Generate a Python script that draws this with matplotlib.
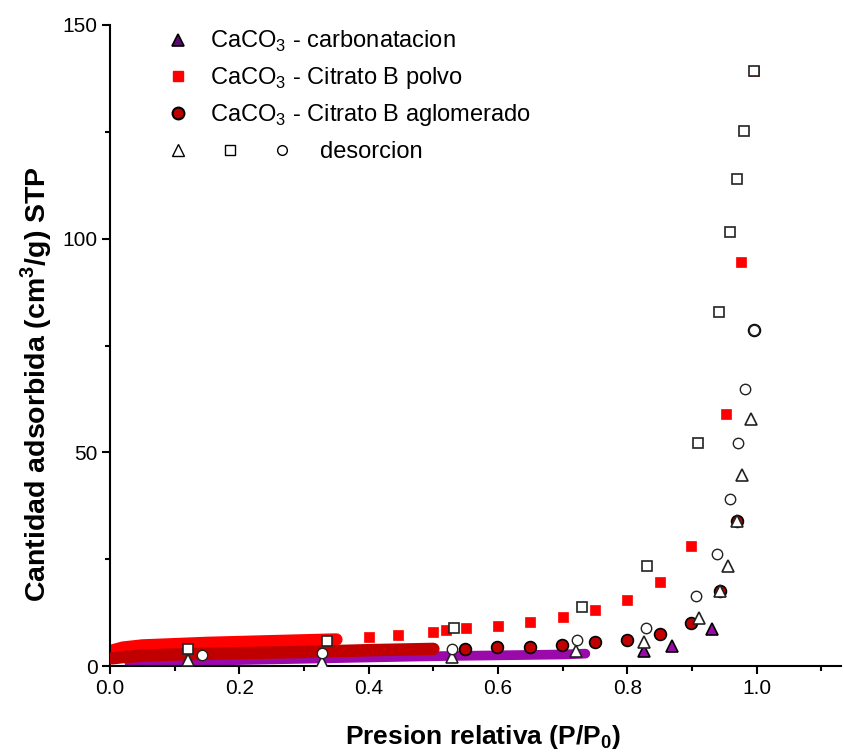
import matplotlib
matplotlib.use("Agg")
import matplotlib.pyplot as plt
from matplotlib.lines import Line2D
from matplotlib.legend_handler import HandlerTuple
from matplotlib.ticker import MultipleLocator

plt.rcParams["font.family"] = ["Liberation Sans", "DejaVu Sans"]
plt.rcParams["mathtext.fontset"] = "custom"
plt.rcParams["mathtext.rm"] = "Liberation Sans"
plt.rcParams["mathtext.bf"] = "Liberation Sans:bold"

# CaCO3 - carbonatacion (adsorcion: tramo denso + puntos sueltos)
carb_band_x = [0.03, 0.1, 0.2, 0.3, 0.4, 0.5, 0.6, 0.7, 0.735]
carb_band_y = [0.8, 1.1, 1.4, 1.7, 2.0, 2.3, 2.5, 2.7, 2.9]
carb_x = [0.825, 0.869, 0.930]
carb_y = [3.4, 4.7, 8.7]
# desorcion
carb_des_x = [0.991, 0.977, 0.970, 0.955, 0.943, 0.910, 0.825, 0.721, 0.529, 0.328, 0.120]
carb_des_y = [57.7, 44.7, 34.0, 23.5, 17.6, 11.3, 5.7, 3.6, 2.0, 1.0, 1.3]

# CaCO3 - Citrato B polvo
polvo_band_x = [0.003, 0.02, 0.05, 0.1, 0.15, 0.2, 0.25, 0.3, 0.35]
polvo_band_y = [3.6, 4.3, 4.8, 5.1, 5.4, 5.6, 5.8, 6.0, 6.2]
polvo_x = [0.40, 0.446, 0.50, 0.52, 0.55, 0.60, 0.65, 0.70, 0.75, 0.80, 0.85, 0.898, 0.952, 0.975, 0.995]
polvo_y = [6.9, 7.3, 8.0, 8.4, 8.8, 9.4, 10.3, 11.4, 13.1, 15.4, 19.7, 28.2, 58.9, 94.6, 139.3]
polvo_des_x = [0.995, 0.980, 0.969, 0.958, 0.942, 0.909, 0.830, 0.730, 0.532, 0.335, 0.120]
polvo_des_y = [139.3, 125.3, 113.9, 101.5, 82.8, 52.1, 23.4, 13.9, 8.8, 5.9, 4.1]

# CaCO3 - Citrato B aglomerado
aglo_band_x = [0.003, 0.02, 0.05, 0.1, 0.2, 0.3, 0.4, 0.5]
aglo_band_y = [1.8, 2.1, 2.4, 2.7, 3.0, 3.3, 3.7, 4.0]
aglo_x = [0.549, 0.598, 0.65, 0.699, 0.750, 0.80, 0.85, 0.898, 0.943, 0.970, 0.995]
aglo_y = [4.1, 4.4, 4.5, 4.9, 5.7, 6.2, 7.5, 10.1, 17.6, 34.0, 78.6]
aglo_des_x = [0.995, 0.981, 0.971, 0.958, 0.938, 0.906, 0.828, 0.722, 0.529, 0.328, 0.142]
aglo_des_y = [78.6, 64.8, 52.1, 39.1, 26.2, 16.4, 8.8, 6.1, 4.1, 3.1, 2.6]

purple = "#9a0aaa"
red = "#ff0000"
darkred = "#c00000"

fig = plt.figure(figsize=(8.44, 7.53), dpi=100)
ax = fig.add_axes([0.1303, 0.1155, 0.866, 0.8513])

# tramos densos de puntos
ax.plot(carb_band_x, carb_band_y, color=purple, lw=7.0, solid_capstyle="round", zorder=2)
ax.plot(polvo_band_x, polvo_band_y, color=red, lw=9.0, solid_capstyle="round", zorder=2)
ax.plot(aglo_band_x, aglo_band_y, color=darkred, lw=9.0, solid_capstyle="round", zorder=3)

ax.plot(carb_x, carb_y, "^", ms=9, mfc=purple, mec="black", mew=1.2, ls="none", zorder=4)
ax.plot(polvo_x, polvo_y, "s", ms=7.5, mfc=red, mec=red, mew=0.5, ls="none", zorder=4)
ax.plot(aglo_x, aglo_y, "o", ms=8.5, mfc=darkred, mec="black", mew=1.2, ls="none", zorder=4)

ax.plot(carb_des_x, carb_des_y, "^", ms=8.5, mfc="white", mec="#222222", mew=1.2, ls="none", zorder=5)
ax.plot(polvo_des_x, polvo_des_y, "s", ms=6.5, mfc="white", mec="#222222", mew=1.2, ls="none", zorder=5)
ax.plot(aglo_des_x, aglo_des_y, "o", ms=7.5, mfc="white", mec="#222222", mew=1.0, ls="none", zorder=5)

ax.set_xlim(0, 1.13)
ax.set_ylim(0, 150)
ax.xaxis.set_major_locator(MultipleLocator(0.2))
ax.xaxis.set_minor_locator(MultipleLocator(0.1))
ax.yaxis.set_major_locator(MultipleLocator(50))
ax.yaxis.set_minor_locator(MultipleLocator(25))
ax.xaxis.set_major_formatter(lambda v, p: f"{v:.1f}")
ax.spines["top"].set_visible(False)
ax.spines["right"].set_visible(False)
for s in ["left", "bottom"]:
    ax.spines[s].set_linewidth(1.5)
ax.tick_params(which="major", direction="out", length=6, width=1.5, labelsize=15, pad=3)
ax.tick_params(which="minor", direction="out", length=3.5, width=1.5)

ax.set_xlabel("Presion relativa (P/P$_\\mathbf{0}$)", fontsize=19, fontweight="bold", labelpad=18)
ax.set_ylabel("Cantidad adsorbida (cm$^\\mathbf{3}$/g) STP", fontsize=20.5, fontweight="bold", labelpad=6)
ax.xaxis.label.set_x(0.5096)
ax.yaxis.label.set_y(0.44)

h1 = Line2D([], [], marker="^", ms=9, mfc="#5a0a70", mec="black", mew=1.2, ls="none")
h2 = Line2D([], [], marker="s", ms=7.5, mfc=red, mec=red, ls="none")
h3 = Line2D([], [], marker="o", ms=8.5, mfc=darkred, mec="black", mew=1.5, ls="none")
leg1 = ax.legend([h1, h2, h3],
                 ["CaCO$_\\mathregular{3}$ - carbonatacion",
                  "CaCO$_\\mathregular{3}$ - Citrato B polvo",
                  "CaCO$_\\mathregular{3}$ - Citrato B aglomerado"],
                 loc="upper left", bbox_to_anchor=(0.0767, 0.994), frameon=False, fontsize=17,
                 handlelength=1.0, handletextpad=0.86, borderpad=0, borderaxespad=0,
                 labelspacing=0.47)
ax.add_artist(leg1)

d1 = Line2D([], [], marker="^", ms=8, mfc="white", mec="black", mew=1.0, ls="none")
d2 = Line2D([], [], marker="s", ms=6.5, mfc="white", mec="black", mew=1.0, ls="none")
d3 = Line2D([], [], marker="o", ms=7, mfc="white", mec="black", mew=1.0, ls="none")
ax.legend([(d1, d2, d3)], ["desorcion"], handler_map={tuple: HandlerTuple(ndivide=None, pad=0)},
          loc="center left", bbox_to_anchor=(0.0575, 0.802), frameon=False, fontsize=17,
          handlelength=6.6, handletextpad=0.51, borderpad=0, borderaxespad=0)

fig.savefig("out.png", dpi=100)
